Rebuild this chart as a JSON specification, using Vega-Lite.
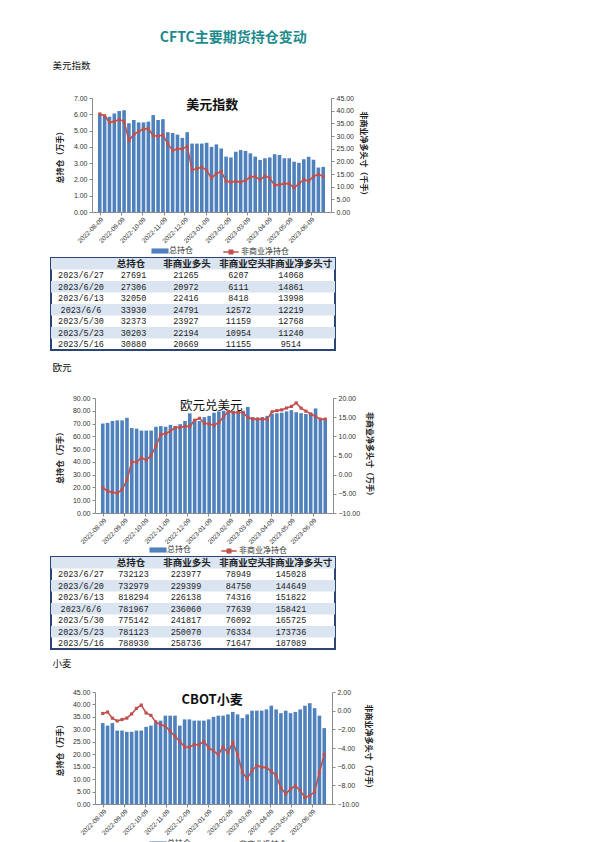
{
  "$schema": "https://vega.github.io/schema/vega-lite/v6.json",
  "background": "white",
  "padding": {"left": 50, "top": 30, "right": 5, "bottom": 5},
  "title": {
    "text": "CFTC主要期货持仓变动",
    "font": "Noto Sans CJK SC",
    "fontSize": 14,
    "fontWeight": "bold",
    "color": "#1d8a8c",
    "anchor": "middle",
    "dx": 22,
    "offset": 16
  },
  "spacing": 0,
  "resolve": {
    "scale": {"fill": "independent", "stroke": "independent"},
    "legend": {"fill": "independent", "stroke": "independent"}
  },
  "datasets": {
    "usd": [
      {"date": "2022-08-09", "oi": 6.00, "net": 38.7},
      {"date": "2022-08-16", "oi": 5.90, "net": 38.0},
      {"date": "2022-08-23", "oi": 5.85, "net": 35.4},
      {"date": "2022-08-30", "oi": 6.05, "net": 35.7},
      {"date": "2022-09-06", "oi": 6.20, "net": 36.5},
      {"date": "2022-09-13", "oi": 6.25, "net": 35.8},
      {"date": "2022-09-20", "oi": 5.45, "net": 28.2},
      {"date": "2022-09-27", "oi": 5.65, "net": 30.6},
      {"date": "2022-10-04", "oi": 5.50, "net": 31.8},
      {"date": "2022-10-11", "oi": 5.50, "net": 32.8},
      {"date": "2022-10-18", "oi": 5.55, "net": 32.8},
      {"date": "2022-10-25", "oi": 5.95, "net": 30.2},
      {"date": "2022-11-01", "oi": 5.65, "net": 29.9},
      {"date": "2022-11-08", "oi": 5.70, "net": 30.4},
      {"date": "2022-11-15", "oi": 4.90, "net": 26.9},
      {"date": "2022-11-22", "oi": 4.85, "net": 24.3},
      {"date": "2022-11-29", "oi": 4.75, "net": 24.9},
      {"date": "2022-12-06", "oi": 4.55, "net": 24.9},
      {"date": "2022-12-13", "oi": 4.90, "net": 25.9},
      {"date": "2022-12-20", "oi": 4.20, "net": 16.7},
      {"date": "2022-12-27", "oi": 4.20, "net": 17.1},
      {"date": "2023-01-03", "oi": 4.20, "net": 17.7},
      {"date": "2023-01-10", "oi": 4.25, "net": 16.4},
      {"date": "2023-01-17", "oi": 4.00, "net": 13.4},
      {"date": "2023-01-24", "oi": 4.15, "net": 15.1},
      {"date": "2023-01-31", "oi": 3.90, "net": 16.0},
      {"date": "2023-02-07", "oi": 3.40, "net": 12.2},
      {"date": "2023-02-14", "oi": 3.35, "net": 11.8},
      {"date": "2023-02-21", "oi": 3.70, "net": 12.1},
      {"date": "2023-02-28", "oi": 3.80, "net": 11.8},
      {"date": "2023-03-07", "oi": 3.75, "net": 12.5},
      {"date": "2023-03-14", "oi": 3.60, "net": 13.8},
      {"date": "2023-03-21", "oi": 3.40, "net": 14.0},
      {"date": "2023-03-28", "oi": 3.20, "net": 12.7},
      {"date": "2023-04-04", "oi": 3.30, "net": 14.2},
      {"date": "2023-04-11", "oi": 3.35, "net": 13.4},
      {"date": "2023-04-18", "oi": 3.55, "net": 10.5},
      {"date": "2023-04-25", "oi": 3.50, "net": 10.8},
      {"date": "2023-05-02", "oi": 3.30, "net": 11.2},
      {"date": "2023-05-09", "oi": 3.30, "net": 11.2},
      {"date": "2023-05-16", "oi": 3.09, "net": 9.51},
      {"date": "2023-05-23", "oi": 3.02, "net": 11.24},
      {"date": "2023-05-30", "oi": 3.24, "net": 12.77},
      {"date": "2023-06-06", "oi": 3.39, "net": 12.22},
      {"date": "2023-06-13", "oi": 3.21, "net": 14.00},
      {"date": "2023-06-20", "oi": 2.73, "net": 14.86},
      {"date": "2023-06-27", "oi": 2.77, "net": 14.07}
    ],
    "eur": [
      {"date": "2022-08-09", "oi": 70.0, "net": -3.4},
      {"date": "2022-08-16", "oi": 70.5, "net": -4.3},
      {"date": "2022-08-23", "oi": 72.0, "net": -4.6},
      {"date": "2022-08-30", "oi": 72.5, "net": -4.8},
      {"date": "2022-09-06", "oi": 72.5, "net": -3.9},
      {"date": "2022-09-13", "oi": 74.5, "net": -1.4},
      {"date": "2022-09-20", "oi": 66.5, "net": 3.3},
      {"date": "2022-09-27", "oi": 66.0, "net": 3.3},
      {"date": "2022-10-04", "oi": 64.5, "net": 4.4},
      {"date": "2022-10-11", "oi": 64.5, "net": 3.8},
      {"date": "2022-10-18", "oi": 64.5, "net": 5.0},
      {"date": "2022-10-25", "oi": 67.5, "net": 7.5},
      {"date": "2022-11-01", "oi": 68.0, "net": 10.5},
      {"date": "2022-11-08", "oi": 67.5, "net": 10.7},
      {"date": "2022-11-15", "oi": 69.0, "net": 11.4},
      {"date": "2022-11-22", "oi": 68.0, "net": 12.3},
      {"date": "2022-11-29", "oi": 69.5, "net": 12.3},
      {"date": "2022-12-06", "oi": 72.0, "net": 12.6},
      {"date": "2022-12-13", "oi": 78.0, "net": 12.6},
      {"date": "2022-12-20", "oi": 73.0, "net": 14.2},
      {"date": "2022-12-27", "oi": 72.0, "net": 14.7},
      {"date": "2023-01-03", "oi": 75.0, "net": 13.4},
      {"date": "2023-01-10", "oi": 76.0, "net": 13.2},
      {"date": "2023-01-17", "oi": 78.5, "net": 12.9},
      {"date": "2023-01-24", "oi": 79.5, "net": 13.6},
      {"date": "2023-01-31", "oi": 80.0, "net": 15.2},
      {"date": "2023-02-07", "oi": 80.5, "net": 16.5},
      {"date": "2023-02-14", "oi": 80.0, "net": 16.2},
      {"date": "2023-02-21", "oi": 80.0, "net": 16.2},
      {"date": "2023-02-28", "oi": 80.0, "net": 16.2},
      {"date": "2023-03-07", "oi": 83.0, "net": 14.9},
      {"date": "2023-03-14", "oi": 75.0, "net": 14.5},
      {"date": "2023-03-21", "oi": 74.5, "net": 14.5},
      {"date": "2023-03-28", "oi": 75.0, "net": 14.5},
      {"date": "2023-04-04", "oi": 76.0, "net": 14.5},
      {"date": "2023-04-11", "oi": 77.5, "net": 16.4},
      {"date": "2023-04-18", "oi": 78.0, "net": 16.7},
      {"date": "2023-04-25", "oi": 78.5, "net": 16.9},
      {"date": "2023-05-02", "oi": 79.5, "net": 17.4},
      {"date": "2023-05-09", "oi": 80.5, "net": 17.8},
      {"date": "2023-05-16", "oi": 78.89, "net": 18.71},
      {"date": "2023-05-23", "oi": 78.11, "net": 17.37},
      {"date": "2023-05-30", "oi": 77.51, "net": 16.57},
      {"date": "2023-06-06", "oi": 78.20, "net": 15.84},
      {"date": "2023-06-13", "oi": 81.83, "net": 15.18},
      {"date": "2023-06-20", "oi": 73.30, "net": 14.46},
      {"date": "2023-06-27", "oi": 73.21, "net": 14.50}
    ],
    "wheat": [
      {"date": "2022-08-09", "oi": 32.5, "net": -0.3},
      {"date": "2022-08-16", "oi": 31.5, "net": -0.15},
      {"date": "2022-08-23", "oi": 32.5, "net": -0.8},
      {"date": "2022-08-30", "oi": 29.5, "net": -1.1},
      {"date": "2022-09-06", "oi": 29.5, "net": -0.95},
      {"date": "2022-09-13", "oi": 29.0, "net": -0.8},
      {"date": "2022-09-20", "oi": 29.0, "net": -0.35},
      {"date": "2022-09-27", "oi": 29.5, "net": 0.25},
      {"date": "2022-10-04", "oi": 29.5, "net": 0.6},
      {"date": "2022-10-11", "oi": 31.0, "net": -0.25},
      {"date": "2022-10-18", "oi": 31.5, "net": -0.5},
      {"date": "2022-10-25", "oi": 32.5, "net": -1.2},
      {"date": "2022-11-01", "oi": 33.5, "net": -1.5},
      {"date": "2022-11-08", "oi": 35.5, "net": -1.65},
      {"date": "2022-11-15", "oi": 35.5, "net": -2.2},
      {"date": "2022-11-22", "oi": 35.5, "net": -2.75},
      {"date": "2022-11-29", "oi": 31.5, "net": -3.3},
      {"date": "2022-12-06", "oi": 34.0, "net": -3.9},
      {"date": "2022-12-13", "oi": 34.0, "net": -3.9},
      {"date": "2022-12-20", "oi": 33.5, "net": -3.65},
      {"date": "2022-12-27", "oi": 33.5, "net": -3.65},
      {"date": "2023-01-03", "oi": 33.5, "net": -3.3},
      {"date": "2023-01-10", "oi": 34.0, "net": -4.0},
      {"date": "2023-01-17", "oi": 35.0, "net": -4.3},
      {"date": "2023-01-24", "oi": 35.5, "net": -4.7},
      {"date": "2023-01-31", "oi": 35.5, "net": -3.9},
      {"date": "2023-02-07", "oi": 36.0, "net": -4.5},
      {"date": "2023-02-14", "oi": 37.0, "net": -3.4},
      {"date": "2023-02-21", "oi": 36.0, "net": -4.7},
      {"date": "2023-02-28", "oi": 34.5, "net": -6.6},
      {"date": "2023-03-07", "oi": 36.0, "net": -7.3},
      {"date": "2023-03-14", "oi": 37.5, "net": -6.4},
      {"date": "2023-03-21", "oi": 37.5, "net": -5.9},
      {"date": "2023-03-28", "oi": 37.5, "net": -6.05},
      {"date": "2023-04-04", "oi": 38.0, "net": -6.1},
      {"date": "2023-04-11", "oi": 39.5, "net": -6.5},
      {"date": "2023-04-18", "oi": 38.0, "net": -6.9},
      {"date": "2023-04-25", "oi": 36.5, "net": -8.3},
      {"date": "2023-05-02", "oi": 37.5, "net": -8.9},
      {"date": "2023-05-09", "oi": 36.5, "net": -8.4},
      {"date": "2023-05-16", "oi": 37.0, "net": -8.05},
      {"date": "2023-05-23", "oi": 38.0, "net": -8.55},
      {"date": "2023-05-30", "oi": 39.5, "net": -9.3},
      {"date": "2023-06-06", "oi": 40.5, "net": -9.1},
      {"date": "2023-06-13", "oi": 38.5, "net": -8.7},
      {"date": "2023-06-20", "oi": 35.5, "net": -6.6},
      {"date": "2023-06-27", "oi": 30.5, "net": -4.7}
    ],
    "usd_tab": [
      {"日期": "", "总持仓": "总持仓", "非商业多头": "非商业多头", "非商业空头": "非商业空头", "非商业净多头寸": "非商业净多头寸"},
      {"日期": "2023/6/27", "总持仓": 27691, "非商业多头": 21265, "非商业空头": 6207, "非商业净多头寸": 14068},
      {"日期": "2023/6/20", "总持仓": 27306, "非商业多头": 20972, "非商业空头": 6111, "非商业净多头寸": 14861},
      {"日期": "2023/6/13", "总持仓": 32050, "非商业多头": 22416, "非商业空头": 8418, "非商业净多头寸": 13998},
      {"日期": "2023/6/6", "总持仓": 33930, "非商业多头": 24791, "非商业空头": 12572, "非商业净多头寸": 12219},
      {"日期": "2023/5/30", "总持仓": 32373, "非商业多头": 23927, "非商业空头": 11159, "非商业净多头寸": 12768},
      {"日期": "2023/5/23", "总持仓": 30203, "非商业多头": 22194, "非商业空头": 10954, "非商业净多头寸": 11240},
      {"日期": "2023/5/16", "总持仓": 30880, "非商业多头": 20669, "非商业空头": 11155, "非商业净多头寸": 9514}
    ],
    "eur_tab": [
      {"日期": "", "总持仓": "总持仓", "非商业多头": "非商业多头", "非商业空头": "非商业空头", "非商业净多头寸": "非商业净多头寸"},
      {"日期": "2023/6/27", "总持仓": 732123, "非商业多头": 223977, "非商业空头": 78949, "非商业净多头寸": 145028},
      {"日期": "2023/6/20", "总持仓": 732979, "非商业多头": 229399, "非商业空头": 84750, "非商业净多头寸": 144649},
      {"日期": "2023/6/13", "总持仓": 818294, "非商业多头": 226138, "非商业空头": 74316, "非商业净多头寸": 151822},
      {"日期": "2023/6/6", "总持仓": 781967, "非商业多头": 236060, "非商业空头": 77639, "非商业净多头寸": 158421},
      {"日期": "2023/5/30", "总持仓": 775142, "非商业多头": 241817, "非商业空头": 76092, "非商业净多头寸": 165725},
      {"日期": "2023/5/23", "总持仓": 781123, "非商业多头": 250070, "非商业空头": 76334, "非商业净多头寸": 173736},
      {"日期": "2023/5/16", "总持仓": 788930, "非商业多头": 258736, "非商业空头": 71647, "非商业净多头寸": 187089}
    ]
  },
  "vconcat": [
    {
      "spacing": 0,
      "hconcat": [
        {"width": 1, "height": 10, "data": {"values": []}, "mark": {"type": "point", "opacity": 0}},
        {
          "title": {"text": "美元指数", "anchor": "start", "frame": "bounds", "offset": 24, "dx": -4},
          "width": 239,
          "height": 114,
          "data": {"name": "usd"},
          "layer": [
            {
              "layer": [
                {
                  "mark": {"type": "bar", "width": 3.6},
                  "encoding": {
                    "x": {
                      "field": "date", "type": "temporal",
                      "scale": {"type": "utc", "domain": [{"year": 2022, "month": 8, "date": 5, "utc": true}, {"year": 2023, "month": 7, "date": 1, "utc": true}]},
                      "axis": {
                        "title": null, "format": "%Y-%m-%d", "labelAngle": -45, "labelFontSize": 6.5, "labelPadding": 1, "labelOverlap": false, "tickCount": 12,
                        "values": [
                          {"year": 2022, "month": 8, "date": 9, "utc": true},
                          {"year": 2022, "month": 9, "date": 9, "utc": true},
                          {"year": 2022, "month": 10, "date": 9, "utc": true},
                          {"year": 2022, "month": 11, "date": 9, "utc": true},
                          {"year": 2022, "month": 12, "date": 9, "utc": true},
                          {"year": 2023, "month": 1, "date": 9, "utc": true},
                          {"year": 2023, "month": 2, "date": 9, "utc": true},
                          {"year": 2023, "month": 3, "date": 9, "utc": true},
                          {"year": 2023, "month": 4, "date": 9, "utc": true},
                          {"year": 2023, "month": 5, "date": 9, "utc": true},
                          {"year": 2023, "month": 6, "date": 9, "utc": true}
                        ]
                      }
                    },
                    "y": {
                      "field": "oi", "type": "quantitative",
                      "scale": {"domain": [0, 7]},
                      "axis": {"title": "总持仓（万手）", "values": [0, 1, 2, 3, 4, 5, 6, 7], "tickCount": 12, "format": ".2f", "titlePadding": 9, "labelPadding": 2, "labelOverlap": false}
                    },
                    "fill": {
                      "datum": "总持仓", "type": "nominal",
                      "scale": {"range": ["#4f81bd"]},
                      "legend": {"title": null, "orient": "none", "legendX": 103, "legendY": 147, "symbolType": "M-1.5,-0.45H1.5V0.45H-1.5Z", "symbolSize": 130, "symbolStrokeWidth": 0, "labelOffset": 3}
                    }
                  }
                },
                {
                  "data": {"values": [{"t": "美元指数"}]},
                  "mark": {"type": "text", "font": "Noto Sans CJK SC", "fontSize": 13, "fontWeight": "bold", "color": "#111", "baseline": "middle"},
                  "encoding": {
                    "x": {"datum": {"year": 2023, "month": 1, "date": 18, "utc": true}},
                    "y": {"datum": 6.55},
                    "text": {"field": "t", "type": "nominal"}
                  }
                }
              ]
            },
            {
              "layer": [
                {
                  "mark": {"type": "line", "strokeWidth": 1.6},
                  "encoding": {
                    "x": {"field": "date", "type": "temporal"},
                    "y": {
                      "field": "net", "type": "quantitative",
                      "scale": {"domain": [0, 45]},
                      "axis": {"orient": "right", "title": "非商业净多头寸（千手）", "values": [0, 5, 10, 15, 20, 25, 30, 35, 40, 45], "tickCount": 12, "format": ".2f", "titlePadding": 5, "labelPadding": 2, "labelOverlap": false}
                    },
                    "stroke": {
                      "datum": "非商业净持仓", "type": "nominal",
                      "scale": {"range": ["#c0504d"]},
                      "legend": {"title": null, "orient": "none", "legendX": 173, "legendY": 147, "symbolType": "M-1.35,0H1.35M-0.3,-0.3H0.3V0.3H-0.3Z", "symbolSize": 130, "symbolStrokeWidth": 1.6, "symbolFillColor": "#c0504d", "labelOffset": 3}
                    }
                  }
                },
                {
                  "mark": {"type": "point", "shape": "square", "filled": true, "size": 10, "color": "#c0504d", "opacity": 1},
                  "encoding": {
                    "x": {"field": "date", "type": "temporal"},
                    "y": {"field": "net", "type": "quantitative"}
                  }
                }
              ]
            }
          ],
          "resolve": {"scale": {"y": "independent"}}
        }
      ]
    },
    {
      "width": 284,
      "height": 92,
      "data": {"name": "usd_tab"},
      "view": {"stroke": "#2b4675", "strokeWidth": 2},
      "layer": [
        {
          "transform": [{"filter": "datum['日期'] === '' || datum['日期'] === '2023/6/20' || datum['日期'] === '2023/6/6' || datum['日期'] === '2023/5/23'"}],
          "mark": {"type": "rect", "color": "#dbe5f1"},
          "encoding": {
            "x": {"value": 0},
            "x2": {"value": "width"},
            "y": {"field": "日期", "type": "nominal", "scale": {"domain": ["", "2023/6/27", "2023/6/20", "2023/6/13", "2023/6/6", "2023/5/30", "2023/5/23", "2023/5/16"], "paddingInner": 0, "paddingOuter": 0}, "axis": null}
          }
        },
        {
          "transform": [
            {"fold": ["日期", "总持仓", "非商业多头", "非商业空头", "非商业净多头寸"]},
            {"filter": "datum['日期'] === ''"}
          ],
          "mark": {"type": "text", "font": "Noto Sans CJK SC", "fontSize": 9.5, "fontWeight": "bold", "color": "#222"},
          "encoding": {
            "x": {"field": "key", "type": "nominal", "scale": {"type": "point", "domain": ["日期", "总持仓", "非商业多头", "非商业空头", "非商业净多头寸"], "padding": 0.536, "align": 0.4}, "axis": null},
            "y": {"field": "日期", "type": "nominal", "axis": null},
            "text": {"field": "value", "type": "nominal"}
          }
        },
        {
          "transform": [
            {"fold": ["日期", "总持仓", "非商业多头", "非商业空头", "非商业净多头寸"]},
            {"filter": "datum['日期'] !== ''"}
          ],
          "mark": {"type": "text", "font": "Liberation Mono", "fontSize": 8.5, "color": "#222"},
          "encoding": {
            "x": {"field": "key", "type": "nominal", "scale": {"type": "point", "domain": ["日期", "总持仓", "非商业多头", "非商业空头", "非商业净多头寸"], "padding": 0.705, "align": 0.405}, "axis": {"orient": "bottom", "labels": false, "ticks": false, "domain": false, "title": null, "minExtent": 11, "maxExtent": 11}},
            "y": {"field": "日期", "type": "nominal", "axis": null},
            "text": {"field": "value", "type": "nominal"}
          }
        }
      ],
      "resolve": {"scale": {"x": "independent"}, "axis": {"x": "independent"}}
    },
    {
      "spacing": 0,
      "hconcat": [
        {"width": 1, "height": 10, "data": {"values": []}, "mark": {"type": "point", "opacity": 0}},
        {
          "title": {"text": "欧元", "anchor": "start", "frame": "bounds", "offset": 22, "dx": -4},
          "width": 238,
          "height": 115,
          "data": {"name": "eur"},
          "layer": [
            {
              "layer": [
                {
                  "mark": {"type": "bar", "width": 3.6},
                  "encoding": {
                    "x": {
                      "field": "date", "type": "temporal",
                      "scale": {"type": "utc", "domain": [{"year": 2022, "month": 8, "date": 5, "utc": true}, {"year": 2023, "month": 7, "date": 1, "utc": true}]},
                      "axis": {
                        "title": null, "format": "%Y-%m-%d", "labelAngle": -45, "labelFontSize": 6.5, "labelPadding": 1, "labelOverlap": false, "tickCount": 12,
                        "values": [
                          {"year": 2022, "month": 8, "date": 9, "utc": true},
                          {"year": 2022, "month": 9, "date": 9, "utc": true},
                          {"year": 2022, "month": 10, "date": 9, "utc": true},
                          {"year": 2022, "month": 11, "date": 9, "utc": true},
                          {"year": 2022, "month": 12, "date": 9, "utc": true},
                          {"year": 2023, "month": 1, "date": 9, "utc": true},
                          {"year": 2023, "month": 2, "date": 9, "utc": true},
                          {"year": 2023, "month": 3, "date": 9, "utc": true},
                          {"year": 2023, "month": 4, "date": 9, "utc": true},
                          {"year": 2023, "month": 5, "date": 9, "utc": true},
                          {"year": 2023, "month": 6, "date": 9, "utc": true}
                        ]
                      }
                    },
                    "y": {
                      "field": "oi", "type": "quantitative",
                      "scale": {"domain": [0, 90]},
                      "axis": {"title": "总持仓（万手）", "values": [0, 10, 20, 30, 40, 50, 60, 70, 80, 90], "tickCount": 12, "format": ".2f", "titlePadding": 8, "labelPadding": 2, "labelOverlap": false}
                    },
                    "fill": {
                      "datum": "总持仓", "type": "nominal",
                      "scale": {"range": ["#4f81bd"]},
                      "legend": {"title": null, "orient": "none", "legendX": 101, "legendY": 146, "symbolType": "M-1.5,-0.45H1.5V0.45H-1.5Z", "symbolSize": 130, "symbolStrokeWidth": 0, "labelOffset": 3}
                    }
                  }
                },
                {
                  "data": {"values": [{"t": "欧元兑美元"}]},
                  "mark": {"type": "text", "font": "Noto Sans CJK SC", "fontSize": 12.5, "color": "#111", "baseline": "middle"},
                  "encoding": {
                    "x": {"datum": {"year": 2023, "month": 1, "date": 13, "utc": true}},
                    "y": {"datum": 83.7},
                    "text": {"field": "t", "type": "nominal"}
                  }
                }
              ]
            },
            {
              "layer": [
                {
                  "mark": {"type": "line", "strokeWidth": 1.6},
                  "encoding": {
                    "x": {"field": "date", "type": "temporal"},
                    "y": {
                      "field": "net", "type": "quantitative",
                      "scale": {"domain": [-10, 20]},
                      "axis": {"orient": "right", "title": "非商业净多头寸（万手）", "values": [-10, -5, 0, 5, 10, 15, 20], "tickCount": 12, "format": ".2f", "titlePadding": 5, "labelPadding": 2, "labelOverlap": false}
                    },
                    "stroke": {
                      "datum": "非商业净持仓", "type": "nominal",
                      "scale": {"range": ["#c0504d"]},
                      "legend": {"title": null, "orient": "none", "legendX": 171, "legendY": 146, "symbolType": "M-1.35,0H1.35M-0.3,-0.3H0.3V0.3H-0.3Z", "symbolSize": 130, "symbolStrokeWidth": 1.6, "symbolFillColor": "#c0504d", "labelOffset": 3}
                    }
                  }
                },
                {
                  "mark": {"type": "point", "shape": "square", "filled": true, "size": 10, "color": "#c0504d", "opacity": 1},
                  "encoding": {
                    "x": {"field": "date", "type": "temporal"},
                    "y": {"field": "net", "type": "quantitative"}
                  }
                }
              ]
            }
          ],
          "resolve": {"scale": {"y": "independent"}}
        }
      ]
    },
    {
      "width": 284,
      "height": 92,
      "data": {"name": "eur_tab"},
      "view": {"stroke": "#2b4675", "strokeWidth": 2},
      "layer": [
        {
          "transform": [{"filter": "datum['日期'] === '' || datum['日期'] === '2023/6/20' || datum['日期'] === '2023/6/6' || datum['日期'] === '2023/5/23'"}],
          "mark": {"type": "rect", "color": "#dbe5f1"},
          "encoding": {
            "x": {"value": 0},
            "x2": {"value": "width"},
            "y": {"field": "日期", "type": "nominal", "scale": {"domain": ["", "2023/6/27", "2023/6/20", "2023/6/13", "2023/6/6", "2023/5/30", "2023/5/23", "2023/5/16"], "paddingInner": 0, "paddingOuter": 0}, "axis": null}
          }
        },
        {
          "transform": [
            {"fold": ["日期", "总持仓", "非商业多头", "非商业空头", "非商业净多头寸"]},
            {"filter": "datum['日期'] === ''"}
          ],
          "mark": {"type": "text", "font": "Noto Sans CJK SC", "fontSize": 9.5, "fontWeight": "bold", "color": "#222"},
          "encoding": {
            "x": {"field": "key", "type": "nominal", "scale": {"type": "point", "domain": ["日期", "总持仓", "非商业多头", "非商业空头", "非商业净多头寸"], "padding": 0.536, "align": 0.4}, "axis": null},
            "y": {"field": "日期", "type": "nominal", "axis": null},
            "text": {"field": "value", "type": "nominal"}
          }
        },
        {
          "transform": [
            {"fold": ["日期", "总持仓", "非商业多头", "非商业空头", "非商业净多头寸"]},
            {"filter": "datum['日期'] !== ''"}
          ],
          "mark": {"type": "text", "font": "Liberation Mono", "fontSize": 8.5, "color": "#222"},
          "encoding": {
            "x": {"field": "key", "type": "nominal", "scale": {"type": "point", "domain": ["日期", "总持仓", "非商业多头", "非商业空头", "非商业净多头寸"], "padding": 0.705, "align": 0.405}, "axis": {"orient": "bottom", "labels": false, "ticks": false, "domain": false, "title": null, "minExtent": 8, "maxExtent": 8}},
            "y": {"field": "日期", "type": "nominal", "axis": null},
            "text": {"field": "value", "type": "nominal"}
          }
        }
      ],
      "resolve": {"scale": {"x": "independent"}, "axis": {"x": "independent"}}
    },
    {
      "spacing": 0,
      "hconcat": [
        {"width": 1, "height": 10, "data": {"values": []}, "mark": {"type": "point", "opacity": 0}},
        {
          "title": {"text": "小麦", "anchor": "start", "frame": "bounds", "offset": 20, "dx": -4},
          "width": 237,
          "height": 112,
          "data": {"name": "wheat"},
          "layer": [
            {
              "layer": [
                {
                  "mark": {"type": "bar", "width": 3.6},
                  "encoding": {
                    "x": {
                      "field": "date", "type": "temporal",
                      "scale": {"type": "utc", "domain": [{"year": 2022, "month": 8, "date": 5, "utc": true}, {"year": 2023, "month": 7, "date": 1, "utc": true}]},
                      "axis": {
                        "title": null, "format": "%Y-%m-%d", "labelAngle": -45, "labelFontSize": 6.5, "labelPadding": 1, "labelOverlap": false, "tickCount": 12,
                        "values": [
                          {"year": 2022, "month": 8, "date": 9, "utc": true},
                          {"year": 2022, "month": 9, "date": 9, "utc": true},
                          {"year": 2022, "month": 10, "date": 9, "utc": true},
                          {"year": 2022, "month": 11, "date": 9, "utc": true},
                          {"year": 2022, "month": 12, "date": 9, "utc": true},
                          {"year": 2023, "month": 1, "date": 9, "utc": true},
                          {"year": 2023, "month": 2, "date": 9, "utc": true},
                          {"year": 2023, "month": 3, "date": 9, "utc": true},
                          {"year": 2023, "month": 4, "date": 9, "utc": true},
                          {"year": 2023, "month": 5, "date": 9, "utc": true},
                          {"year": 2023, "month": 6, "date": 9, "utc": true}
                        ]
                      }
                    },
                    "y": {
                      "field": "oi", "type": "quantitative",
                      "scale": {"domain": [0, 45]},
                      "axis": {"title": "总持仓（万手）", "values": [0, 5, 10, 15, 20, 25, 30, 35, 40, 45], "tickCount": 12, "format": ".2f", "titlePadding": 8, "labelPadding": 2, "labelOverlap": false}
                    },
                    "fill": {
                      "datum": "总持仓", "type": "nominal",
                      "scale": {"range": ["#4f81bd"]},
                      "legend": {"title": null, "orient": "none", "legendX": 101, "legendY": 146, "symbolType": "M-1.5,-0.45H1.5V0.45H-1.5Z", "symbolSize": 130, "symbolStrokeWidth": 0, "labelOffset": 3}
                    }
                  }
                },
                {
                  "data": {"values": [{"t": "CBOT小麦"}]},
                  "mark": {"type": "text", "font": "Noto Sans CJK SC", "fontSize": 13, "fontWeight": "bold", "color": "#111", "baseline": "middle"},
                  "encoding": {
                    "x": {"datum": {"year": 2023, "month": 1, "date": 15, "utc": true}},
                    "y": {"datum": 41.8},
                    "text": {"field": "t", "type": "nominal"}
                  }
                }
              ]
            },
            {
              "layer": [
                {
                  "mark": {"type": "line", "strokeWidth": 1.6},
                  "encoding": {
                    "x": {"field": "date", "type": "temporal"},
                    "y": {
                      "field": "net", "type": "quantitative",
                      "scale": {"domain": [-10, 2]},
                      "axis": {"orient": "right", "title": "非商业净多头寸（万手）", "values": [-10, -8, -6, -4, -2, 0, 2], "tickCount": 12, "format": ".2f", "titlePadding": 5, "labelPadding": 2, "labelOverlap": false}
                    },
                    "stroke": {
                      "datum": "非商业净持仓", "type": "nominal",
                      "scale": {"range": ["#c0504d"]},
                      "legend": {"title": null, "orient": "none", "legendX": 171, "legendY": 146, "symbolType": "M-1.35,0H1.35M-0.3,-0.3H0.3V0.3H-0.3Z", "symbolSize": 130, "symbolStrokeWidth": 1.6, "symbolFillColor": "#c0504d", "labelOffset": 3}
                    }
                  }
                },
                {
                  "mark": {"type": "point", "shape": "square", "filled": true, "size": 10, "color": "#c0504d", "opacity": 1},
                  "encoding": {
                    "x": {"field": "date", "type": "temporal"},
                    "y": {"field": "net", "type": "quantitative"}
                  }
                }
              ]
            }
          ],
          "resolve": {"scale": {"y": "independent"}}
        }
      ]
    }
  ],
  "config": {
    "view": {"stroke": null},
    "font": "Liberation Sans",
    "title": {"font": "Noto Sans CJK SC", "fontSize": 9.5, "fontWeight": "normal", "color": "#111"},
    "axis": {
      "labelFont": "Liberation Sans",
      "labelFontSize": 7,
      "labelColor": "#333",
      "labelOverlap": false,
      "domainColor": "#8c8c8c",
      "tickColor": "#8c8c8c",
      "tickSize": 3,
      "grid": false,
      "titleFont": "Noto Sans CJK SC",
      "titleFontSize": 8,
      "titleFontWeight": "bold",
      "titleColor": "#222"
    },
    "legend": {
      "direction": "horizontal",
      "labelFont": "Noto Sans CJK SC",
      "labelFontSize": 8,
      "labelColor": "#333",
      "padding": 0
    }
  }
}
